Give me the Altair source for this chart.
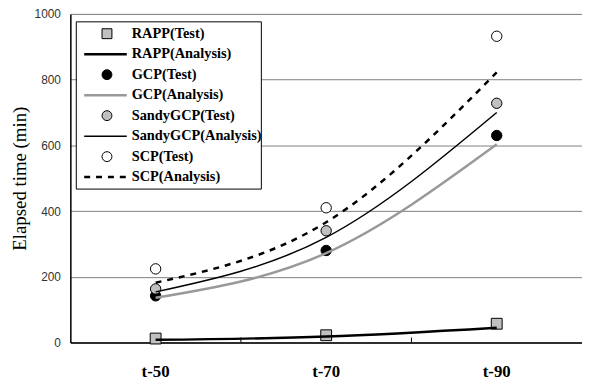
import altair as alt
import pandas as pd

cats = ["t-50", "t-70", "t-90"]
rapp_test = [12, 22, 57]
rapp_analysis = [8, 18, 45]
gcp_test = [142, 280, 630]
gcp_analysis = [136, 272, 603]
sandy_test = [163, 340, 728]
sandy_analysis = [154, 320, 700]
scp_test = [224, 410, 932]
scp_analysis = [182, 366, 822]

series_names = ["RAPP(Test)", "RAPP(Analysis)", "GCP(Test)", "GCP(Analysis)",
                "SandyGCP(Test)", "SandyGCP(Analysis)", "SCP(Test)", "SCP(Analysis)"]
series_vals = [rapp_test, rapp_analysis, gcp_test, gcp_analysis,
               sandy_test, sandy_analysis, scp_test, scp_analysis]

# style per series: (kind, shape, fill, stroke, width, dash)
styles = {
    "RAPP(Test)": ("point", "square", "#c0c0c0", "#000000", 1, None),
    "RAPP(Analysis)": ("line", None, None, "#000000", 2.5, None),
    "GCP(Test)": ("point", "circle", "#000000", "#000000", 1, None),
    "GCP(Analysis)": ("line", None, None, "#999999", 2.5, None),
    "SandyGCP(Test)": ("point", "circle", "#c0c0c0", "#000000", 1, None),
    "SandyGCP(Analysis)": ("line", None, None, "#000000", 1.5, None),
    "SCP(Test)": ("point", "circle", "#ffffff", "#000000", 1, None),
    "SCP(Analysis)": ("line", None, None, "#000000", 2.5, [6, 6]),
}

rows = []
for name, vals in zip(series_names, series_vals):
    for c, v in zip(cats, vals):
        rows.append({"series": name, "cat": c, "value": v})
df = pd.DataFrame(rows)

W, H = 517, 332
SERIF = "Liberation Serif"

xenc = alt.X("cat:N", sort=cats, title=None,
             scale=alt.Scale(type="band", paddingInner=0, paddingOuter=0),
             axis=alt.Axis(labelFont=SERIF, labelFontSize=17, labelFontWeight="bold",
                           labelColor="#000", labelPadding=21, ticks=False, labelAngle=0,
                           domainColor="#000", domainWidth=1.5, grid=False))
yenc = alt.Y("value:Q", title="Elapsed time (min)",
             scale=alt.Scale(domain=[0, 1000], nice=False),
             axis=alt.Axis(values=[0, 200, 400, 600, 800, 1000], format="d", grid=True,
                           gridColor="#808080", gridWidth=1, ticks=False,
                           labelFont="Liberation Sans", labelFontSize=12, labelColor="#333",
                           labelPadding=10, titleFont=SERIF, titleFontSize=19,
                           titleFontWeight="normal", titleColor="#000", titlePadding=5,
                           domainColor="#000", domainWidth=1.5))

layers = []
for name in series_names:
    kind, shape, fill, stroke, width, dash = styles[name]
    sub = alt.Chart(df).transform_filter(alt.datum.series == name)
    if kind == "line":
        kw = dict(color=stroke, strokeWidth=width, interpolate="monotone")
        if dash:
            kw["strokeDash"] = dash
        layers.append(sub.mark_line(**kw).encode(x=xenc, y=yenc))
    else:
        size = 120 if shape == "square" else 110
        layers.append(sub.mark_point(shape=shape, filled=True, fill=fill, stroke=stroke,
                                     strokeWidth=width, size=size, opacity=1)
                      .encode(x=xenc, y=yenc))

# small inward ticks at band boundaries on the x axis
tick_df = pd.DataFrame({"cat": cats[1:]})
ticks = alt.Chart(tick_df).mark_rule(color="#000", strokeWidth=1).encode(
    x=alt.X("cat:N", sort=cats, bandPosition=0),
    y=alt.value(H), y2=alt.value(H - 5))

# legend (inside plot, top-left)
legend_layers = [
    alt.Chart(pd.DataFrame({"a": [0]})).mark_rect(fill="#ffffff", stroke="#000", strokeWidth=1)
    .encode(x=alt.value(6), x2=alt.value(193), y=alt.value(8), y2=alt.value(177))
]
for i, name in enumerate(series_names):
    kind, shape, fill, stroke, width, dash = styles[name]
    yc = 20 + i * 20.7
    one = alt.Chart(pd.DataFrame({"a": [0]}))
    if kind == "line":
        kw = dict(color=stroke, strokeWidth=width)
        if dash:
            kw["strokeDash"] = dash
        legend_layers.append(one.mark_rule(**kw).encode(
            x=alt.value(14), x2=alt.value(57), y=alt.value(yc)))
    else:
        legend_layers.append(one.mark_point(shape=shape, filled=True, fill=fill, stroke=stroke,
                                            strokeWidth=width, size=100, opacity=1)
                             .encode(x=alt.value(37), y=alt.value(yc)))
    legend_layers.append(one.mark_text(text=name, font=SERIF, fontSize=14.5, fontWeight="bold",
                                       align="left", baseline="middle", color="#000")
                         .encode(x=alt.value(62), y=alt.value(yc)))

chart = alt.layer(*layers, ticks, *legend_layers).properties(
    width=W, height=H,
    autosize=alt.AutoSizeParams(type="none"),
    padding={"left": 63, "top": 4, "right": 0, "bottom": 42},
).configure_view(stroke="#000", strokeWidth=1.5).configure(background="#ffffff")

chart.save("out.html", embed_options={"renderer": "svg", "actions": False})
